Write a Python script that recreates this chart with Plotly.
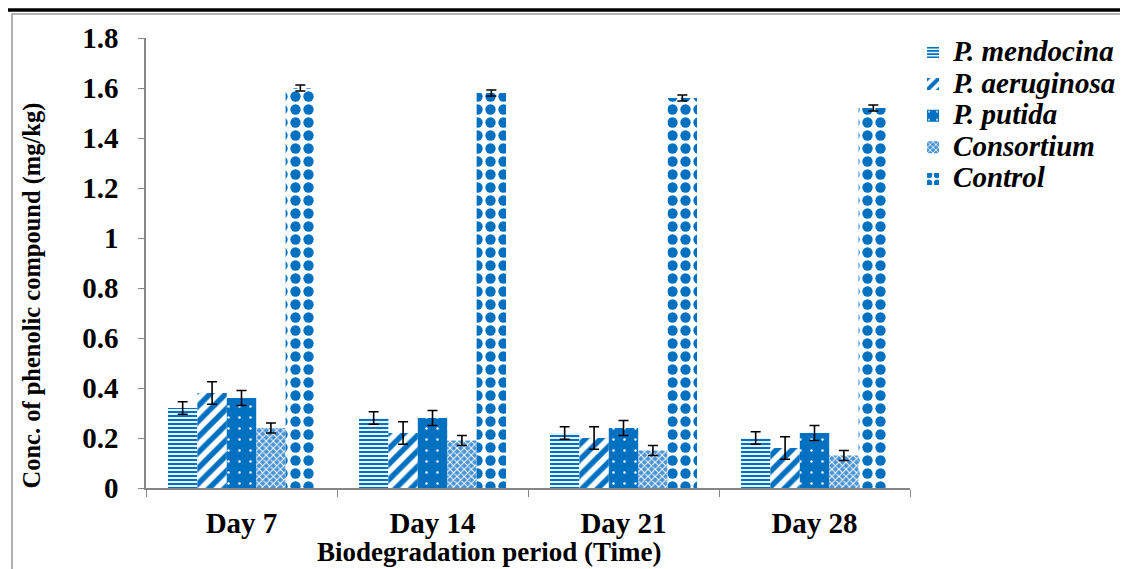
import plotly.graph_objects as go

days = ["Day 7", "Day 14", "Day 21", "Day 28"]
series = ["P. mendocina", "P. aeruginosa", "P. putida", "Consortium", "Control"]
mendocina = [0.32, 0.28, 0.22, 0.20]
aeruginosa = [0.38, 0.22, 0.20, 0.16]
putida = [0.36, 0.28, 0.24, 0.22]
consortium = [0.24, 0.19, 0.15, 0.13]
control = [1.60, 1.58, 1.56, 1.52]
err_mendocina = [0.025, 0.025, 0.025, 0.025]
err_aeruginosa = [0.045, 0.045, 0.045, 0.045]
err_putida = [0.03, 0.03, 0.03, 0.03]
err_consortium = [0.02, 0.02, 0.02, 0.02]
err_control = [0.012, 0.012, 0.012, 0.012]
y_ticks = [0, 0.2, 0.4, 0.6, 0.8, 1, 1.2, 1.4, 1.6, 1.8]
y_tick_labels = ["0", "0.2", "0.4", "0.6", "0.8", "1", "1.2", "1.4", "1.6", "1.8"]
y_title = "Conc. of phenolic compound (mg/kg)"
x_title = "Biodegradation period (Time)"

BLUE = "#0070C0"
FONT = "Liberation Serif, Times New Roman, serif"

values = [mendocina, aeruginosa, putida, consortium, control]
errors = [err_mendocina, err_aeruginosa, err_putida, err_consortium, err_control]
patterns = [
    dict(shape="-", fgcolor=BLUE, bgcolor="white", size=4, solidity=0.55, fillmode="replace"),
    dict(shape="/", fgcolor=BLUE, bgcolor="white", size=11, solidity=0.5, fillmode="replace"),
    dict(shape=".", fgcolor="white", bgcolor=BLUE, size=11, solidity=0.04, fillmode="replace"),
    dict(shape="x", fgcolor="white", bgcolor="#4A93D4", size=5, solidity=0.35, fillmode="replace"),
    dict(shape=".", fgcolor=BLUE, bgcolor="white", size=13, solidity=0.5, fillmode="replace"),
]

fig = go.Figure()
for name, vals, errs, pat in zip(series, values, errors, patterns):
    fig.add_trace(go.Bar(
        x=days, y=vals,
        name=f"<span style='font-size:29px'><b><i>{name}</i></b></span>",
        marker=dict(color=BLUE, pattern=pat, line=dict(width=0)),
        error_y=dict(type="data", array=errs, visible=True, color="black", thickness=1.6, width=5),
    ))

fig.update_layout(
    width=1128, height=569,
    paper_bgcolor="white", plot_bgcolor="white",
    margin=dict(l=138, r=226, t=30, b=89),
    barmode="group", bargap=0.23, bargroupgap=0,
    font=dict(family=FONT, color="black"),
    legend=dict(
        x=1.004, y=1.014, xanchor="left", yanchor="top",
        font=dict(family=FONT, size=22, color="black"),
        tracegroupgap=0, itemwidth=30, bgcolor="rgba(0,0,0,0)",
    ),
    xaxis=dict(
        showline=True, linecolor="#868686", linewidth=1.5,
        ticks="outside", tickson="boundaries", ticklen=7, tickcolor="#868686",
        tickfont=dict(family=FONT, size=29, weight="bold"),
        ticklabelstandoff=8,
        showgrid=False,
    ),
    yaxis=dict(
        range=[0, 1.8], tickvals=y_ticks, ticktext=y_tick_labels,
        showline=True, linecolor="#868686", linewidth=1.5,
        ticks="outside", ticklen=6, tickcolor="#868686",
        tickfont=dict(family=FONT, size=29, weight="bold"),
        ticklabelstandoff=14,
        showgrid=False, zeroline=False,
    ),
)

fig.add_annotation(text=f"<b>{y_title}</b>", xref="paper", yref="paper", x=-0.149, y=0.428,
                   xanchor="center", yanchor="middle", textangle=-90, showarrow=False,
                   font=dict(family=FONT, size=24.5, color="black"))
fig.add_annotation(text=f"<b>{x_title}</b>", xref="paper", yref="paper", x=0.45, y=-0.142,
                   xanchor="center", yanchor="middle", showarrow=False,
                   font=dict(family=FONT, size=27, color="black"))

fig.add_shape(type="rect", xref="paper", yref="paper", x0=-0.1754, y0=-0.5, x1=1.5, y1=1.0533,
              line=dict(color="#9a9a9a", width=1.5), fillcolor="rgba(0,0,0,0)", layer="below")
fig.add_shape(type="line", xref="paper", yref="paper", x0=-0.3, y0=1.0622, x1=1.5, y1=1.0622,
              line=dict(color="black", width=3.5))

fig.write_html("out.html")
